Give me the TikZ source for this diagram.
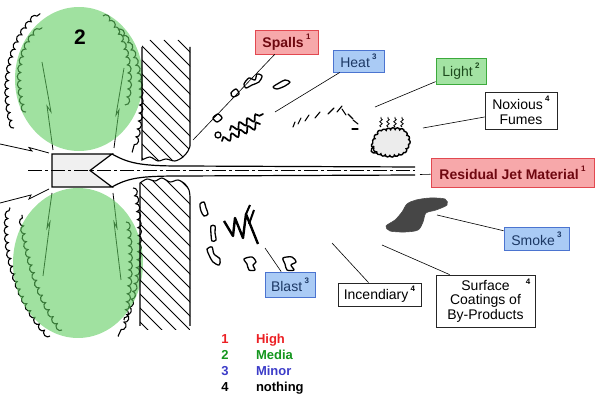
\documentclass[tikz,border=0pt]{standalone}
\usepackage{fontspec}
\setmainfont{Liberation Sans}
\usetikzlibrary{positioning,decorations.pathmorphing}
\definecolor{highred}{RGB}{236,32,36}
\definecolor{highfill}{RGB}{247,168,170}
\definecolor{highdraw}{RGB}{226,72,80}
\definecolor{hightext}{RGB}{110,8,16}
\definecolor{mediagreen}{RGB}{20,150,30}
\definecolor{mediafill}{RGB}{163,227,163}
\definecolor{mediadraw}{RGB}{60,170,60}
\definecolor{mediatext}{RGB}{30,75,30}
\definecolor{minorblue}{RGB}{60,60,200}
\definecolor{minorfill}{RGB}{170,203,245}
\definecolor{minordraw}{RGB}{75,116,208}
\definecolor{minortext}{RGB}{28,56,100}
\definecolor{cloudgreen}{RGB}{97,205,97}
\newcommand{\sev}[1]{\,\raisebox{1.1ex}{\fontsize{8}{8}\selectfont\bfseries #1}}

\begin{document}
\begin{tikzpicture}[x=1pt, y=-1pt,
	tag/.style={rectangle, draw, line width=0.8pt, inner sep=0pt, align=center, font=\fontsize{14}{15}\selectfont},
	high/.style={tag, fill=highfill, draw=highdraw, text=hightext, font=\fontsize{14}{15}\selectfont\bfseries},
	media/.style={tag, fill=mediafill, draw=mediadraw, text=mediatext},
	minor/.style={tag, fill=minorfill, draw=minordraw, text=minortext},
	nil/.style={tag, fill=white, draw=black!85},
	link/.style={line width=0.6pt},
	blob/.style={draw, line width=1.3pt, line join=round},
	curl/.style={decorate, decoration={bumps, amplitude=3.5pt, segment length=16pt}, line width=1.1pt},
	wiggle/.style={decorate, decoration={snake, amplitude=3pt, segment length=9pt}, line width=1.7pt, line cap=round},
	bolt/.style={line width=0.8pt},
	keyfont/.style={inner sep=0pt, font=\fontsize{13}{14}\selectfont\bfseries}]

	\useasboundingbox (0,0) rectangle (600,403);

	% curls and bolts round the charge
	\draw[curl] (14,128) .. controls (2,90) and (8,40) .. (40,14);
	\draw[curl] (26,112) .. controls (16,80) and (20,45) .. (42,28);
	\draw[curl] (103,16) .. controls (128,35) and (132,80) .. (125,105);
	\draw[curl] (118,30) .. controls (142,55) and (145,110) .. (132,152);
	\draw[curl] (50,336) .. controls (15,300) and (2,240) .. (10,208);
	\draw[curl] (62,330) .. controls (40,300) and (28,260) .. (22,215);
	\draw[curl] (133,188) .. controls (142,230) and (140,290) .. (118,336);
	\draw[curl] (126,222) .. controls (131,250) and (129,290) .. (124,320);
	\draw[bolt] (42,62) -- (51,112) -- (47,106) -- (53,150);
	\draw[bolt] (124,68) -- (116,115) -- (119,110) -- (114,148);
	\draw[bolt] (52,193) -- (47,228) -- (50,222) -- (43,276);
	\draw[bolt] (113,193) -- (117,228) -- (114,222) -- (121,280);
	\draw[bolt] (0,144) -- (32,151) -- (29,147.5) -- (49,153);
	\draw[bolt] (0,203) -- (31,195) -- (29,199) -- (49,189);

	\fill[cloudgreen, opacity=0.6] (79,79) ellipse [x radius=64, y radius=72];
	\fill[cloudgreen, opacity=0.6] (78,263) ellipse [x radius=65, y radius=75];
	\node[font=\fontsize{21}{21}\selectfont\bfseries] (two) at (80,37) {2};

	% charge and jet
	\draw[fill=gray!12, line width=1.2pt] (112,154) -- (52,154) -- (52,187) -- (112,187) -- (90,170.5) -- cycle;
	\draw[line width=1.2pt] (112,154) .. controls (128,163) and (140,166) .. (180,166) -- (415,167);
	\draw[line width=1.2pt] (112,187) .. controls (128,178) and (140,176) .. (180,176) -- (415,175);
	\draw[line width=0.7pt, dash pattern=on 14pt off 3pt on 3pt off 3pt] (28,170.5) -- (415,170.5);

	% walls
	\begin{scope}
		\clip (142,40) -- plot[smooth] coordinates {(142,160) (150,157) (158,161) (166,159) (175,161) (183,157) (188,151) (190,146)} -- (190,40) -- cycle;
		\foreach \c in {10,24,...,200} \draw[line width=0.9pt] (\c,40) -- ++(200,200);
	\end{scope}
	\draw[line width=1.1pt] (142,47) -- plot[smooth] coordinates {(142,160) (150,157) (158,161) (166,159) (175,161) (183,157) (188,151) (190,146)} -- (190,47);
	\begin{scope}
		\clip (140,330) -- plot[smooth] coordinates {(140,183) (147,179) (155,181) (162,178) (170,182) (178,180) (185,184) (189,190) (190,197)} -- (190,330) -- cycle;
		\foreach \c in {-156,-142,...,70} \draw[line width=0.9pt] (\c,40) -- ++(300,300);
	\end{scope}
	\draw[line width=1.1pt] (140,326) -- plot[smooth] coordinates {(140,183) (147,179) (155,181) (162,178) (170,182) (178,180) (185,184) (189,190) (190,197)} -- (190,326);

	% spalls
	\draw[blob] (218,135) circle [radius=3];
	\draw[blob] plot[smooth cycle] coordinates {(213,118) (218,114) (222,118) (217,122)};
	\draw[blob] plot[smooth cycle] coordinates {(231,93) (236,89) (239,94) (233,97)};
	\draw[blob] plot[smooth cycle] coordinates {(244,84) (249,78) (255,80) (257,74) (262,76) (259,82) (252,85) (246,88)};
	\draw[blob] plot[smooth cycle] coordinates {(273,87) (279,83) (285,80) (290,82) (285,86) (277,89)};

	% heat
	\draw[wiggle] (230,130) -- (263,114);
	\draw[wiggle] (222,141) -- (260,124);

	% light
	\foreach \a/\b/\c/\d in {293/127/295/122, 298/124/301/118, 305/121/309/115, 315/118/320/112, 328/114/334/108, 337/112/342/106, 342/109/346/115, 348/114/353/119, 353/120/358/124, 352/129/358/129}
		\draw[line width=1.1pt, line cap=round] (\a,\b) -- (\c,\d);

	% fumes
	\draw[fill=gray!15, line width=1.4pt, decorate, decoration={bumps, segment length=9pt, amplitude=2pt}] plot[smooth cycle] coordinates {(374,146) (378,134) (390,130) (402,131) (408,140) (404,151) (392,155) (380,153)};
	\draw[line width=1.4pt] (374,146) .. controls (369,150) and (371,154) .. (377,153);
	\foreach \x in {381,388,395,402}
		\draw[line width=0.8pt, decorate, decoration={snake, amplitude=1.2pt, segment length=4pt}] (\x,127) -- (\x,117);

	% smoke
	\filldraw[fill=gray!55!black, draw=black!70, line width=0.6pt] plot[smooth cycle] coordinates {(402,212) (407,204) (416,200) (430,198) (445,199) (447,205) (436,210) (426,213) (423,222) (418,230) (405,232) (390,231) (386,226) (395,220)};

	% blast
	\draw[line width=2.4pt, line join=round] (224,221) -- (233,236) -- (235,218) -- (243,238) -- (246,214) -- (258,244);
	\draw[line width=2pt] (246,214) -- (250,205);
	\draw[line width=2pt] (249,224) -- (254,210);
	\draw[blob] plot[smooth cycle] coordinates {(200,204) (204,202) (206,208) (208,214) (204,216) (201,211)};
	\draw[blob] plot[smooth cycle] coordinates {(211,226) (215,226) (215,233) (216,240) (212,241) (211,234)};
	\draw[blob] plot[smooth cycle] coordinates {(207,249) (212,247) (214,254) (220,259) (219,265) (213,262) (209,255)};
	\draw[blob] plot[smooth cycle] coordinates {(244,259) (252,257) (256,262) (253,265) (255,270) (249,270) (247,264)};
	\draw[blob] plot[smooth cycle] coordinates {(283,258) (292,257) (296,262) (291,265) (294,270) (287,270) (285,264)};

	% tags
	\node[high, minimum width=63pt, minimum height=24pt] (spalls) at (286.5,42) {Spalls\sev{1}};
	\node[minor, minimum width=51pt, minimum height=22pt] (heat) at (358.5,61) {Heat\sev{3}};
	\node[media, minimum width=50pt, minimum height=26pt] (light) at (461,71) {Light\sev{2}};
	\node[nil, minimum width=72pt, minimum height=37pt] (fumes) at (521,110.5) {Noxious\sev{4}\\Fumes};
	\node[high, minimum width=163pt, minimum height=29pt] (jet) at (512.5,172.5) {Residual Jet Material\sev{1}};
	\node[minor, minimum width=65pt, minimum height=23pt] (smoke) at (536.5,238.5) {Smoke\sev{3}};
	\node[minor, minimum width=50pt, minimum height=25pt] (blast) at (290,284.5) {Blast\sev{3}};
	\node[nil, minimum width=83pt, minimum height=23pt] (incend) at (379.5,294.5) {Incendiary\sev{4}};
	\node[nil, minimum width=99pt, minimum height=52pt, font=\fontsize{14}{14.5}\selectfont] (coat) at (485.5,301) {Surface\\Coatings of\\By-Products};
	\node[anchor=north east, inner sep=0pt, font=\fontsize{8}{8}\selectfont\bfseries] (coat4) at ([xshift=-5pt,yshift=-4pt]coat.north east) {4};

	\coordinate (spallsEnd) at (193,140);
	\coordinate (heatEnd) at (275,112);
	\coordinate (lightEnd) at (375,107);
	\coordinate (fumesEnd) at (423,128);
	\coordinate (jetEnd) at (420,174.5);
	\coordinate (smokeEnd) at (437,215);
	\coordinate (blastEnd) at (265,248);
	\coordinate (incendEnd) at (332,243);
	\coordinate (coatEnd) at (382,245);
	\draw[link] (spalls) -- (spallsEnd);
	\draw[link] (heat) -- (heatEnd);
	\draw[link] (light) -- (lightEnd);
	\draw[link] (fumes) -- (fumesEnd);
	\draw[link] (jet) -- (jetEnd);
	\draw[link] (smoke) -- (smokeEnd);
	\draw[link] (blast) -- (blastEnd);
	\draw[link] (incend) -- (incendEnd);
	\draw[link] ([xshift=14pt]coat.north west) -- (coatEnd);

	% key
	\node[keyfont, text=highred] (k1) at (225,339) {1};
	\node[keyfont, text=mediagreen] (k2) at (225,355) {2};
	\node[keyfont, text=minorblue] (k3) at (225,371) {3};
	\node[keyfont] (k4) at (225,387) {4};
	\node[keyfont, text=highred, base right=27pt of k1] (w1) {High};
	\node[keyfont, text=mediagreen, base right=27pt of k2] (w2) {Media};
	\node[keyfont, text=minorblue, base right=27pt of k3] (w3) {Minor};
	\node[keyfont, base right=27pt of k4] (w4) {nothing};
\end{tikzpicture}
\end{document}
